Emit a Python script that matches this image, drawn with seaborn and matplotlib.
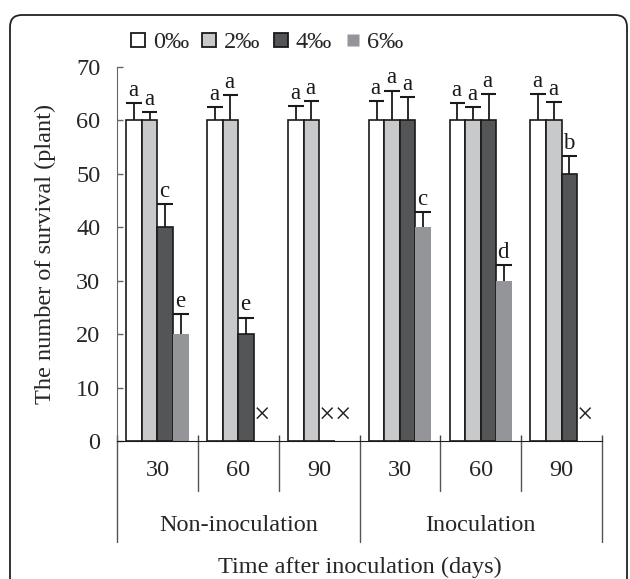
import numpy as np
import pandas as pd
import matplotlib
matplotlib.use("Agg")
import matplotlib.pyplot as plt
import matplotlib.transforms as mtransforms
from matplotlib.patches import FancyBboxPatch
from matplotlib.lines import Line2D
import seaborn as sns

# data
treatments  = ["Non-inoculation", "Inoculation"]
days        = ["30", "60", "90"]
levels      = ["0‰", "2‰", "4‰", "6‰"]
colors      = ["#ffffff", "#c8c9cb", "#545556", "#939598"]

surv_0 = [60, 60, 60, 60, 60, 60]
surv_2 = [60, 60, 60, 60, 60, 60]
surv_4 = [40, 20, 0, 60, 60, 50]
surv_6 = [20, 0, 0, 40, 30, 0]

err_0 = [3.2, 2.5, 2.7, 3.6, 3.2, 5.0]
err_2 = [1.6, 4.8, 3.6, 5.6, 2.5, 3.4]
err_4 = [4.4, 3.1, 0.0, 4.4, 5.0, 3.4]
err_6 = [3.8, 0.0, 0.0, 2.8, 3.0, 0.0]

sig_0 = ["a", "a", "a", "a", "a", "a"]
sig_2 = ["a", "a", "a", "a", "a", "a"]
sig_4 = ["c", "e", "", "a", "a", "b"]
sig_6 = ["e", "", "", "c", "d", ""]

survival = [surv_0, surv_2, surv_4, surv_6]
errors   = [err_0, err_2, err_4, err_6]
letters  = [sig_0, sig_2, sig_4, sig_6]

slots = [f"{t}-{d}" for t in treatments for d in days]
rows = []
for lev, vals in zip(levels, survival):
    for slot, v in zip(slots, vals):
        rows.append({"slot": slot, "level": lev, "value": v})
df = pd.DataFrame(rows)

sns.set_style("ticks")
plt.rcParams["font.family"] = ["Liberation Serif", "DejaVu Serif"]

fig = plt.figure(figsize=(6.3, 5.79), dpi=100)
ax = fig.add_axes([0.1857, 0.2383, 0.7699, 0.6460])

sns.barplot(data=df, x="slot", y="value", hue="level", order=slots,
            hue_order=levels, palette=colors, saturation=1, width=0.77,
            errorbar=None, edgecolor="#1a1a1a", linewidth=1.2, ax=ax,
            legend=False)

# 6‰ bars have no outline
for p in ax.containers[3]:
    p.set_edgecolor("none")

for k, cont in enumerate(ax.containers):
    for i, p in enumerate(cont):
        xc = p.get_x() + p.get_width() / 2
        w = p.get_width()
        v = survival[k][i]
        e = errors[k][i]
        if v == 0:
            # dead plants
            ax.text(xc, 4.6, "×", ha="center", va="center", fontsize=21,
                    color="#222222")
            continue
        ax.vlines(xc, v, v + e, color="#1a1a1a", lw=1.3)
        ax.hlines(v + e, xc - w / 2, xc + w / 2, color="#1a1a1a", lw=1.5)
        if letters[k][i]:
            ax.text(xc - 0.01, v + e + 0.4, letters[k][i], ha="center",
                    va="bottom", fontsize=16.5, color="#1a1a1a")

ax.set_ylim(0, 70)
ax.set_xlim(-0.5, len(slots) - 0.5)
ax.set_yticks(np.arange(0, 71, 10))
ax.tick_params(axis="y", direction="in", length=4, width=1, color="#666666",
               labelsize=17.5, pad=12)
ax.set_xticks(range(len(slots)))
ax.set_xticklabels(days * len(treatments))
ax.tick_params(axis="x", length=0, labelsize=17.5, pad=14)
bounds = np.arange(-0.5, len(slots), 1.0)
ax.set_xticks(bounds, minor=True)
ax.tick_params(axis="x", which="minor", direction="in", length=4, width=1,
               color="#444444")
sns.despine(ax=ax)
ax.spines["left"].set_color("#666666")
ax.spines["bottom"].set_color("#1a1a1a")
ax.set_xlabel("")
ax.set_ylabel("")

# separators under the axis
trans = mtransforms.blended_transform_factory(ax.transData, ax.transAxes)
for b in bounds:
    outer = (b + 0.5) % 3 == 0
    ax.plot([b, b], [0, -0.27 if outer else -0.134], transform=trans,
            color="#555555", lw=1, clip_on=False)
for j, t in enumerate(treatments):
    ax.text(j * 3 + 1, -0.225, t, transform=trans, ha="center", va="center",
            fontsize=17.5)
ax.text(0.5, -0.337, "Time after inoculation (days)", transform=ax.transAxes,
        ha="center", va="center", fontsize=17.5)
ax.text(-0.148, 0.5, "The number of survival (plant)", transform=ax.transAxes,
        rotation=90, ha="center", va="center", fontsize=17.5)

# legend: outlined squares, the 6‰ one smaller and without outline
handles = []
for k, lev in enumerate(levels):
    fc = ax.containers[k][0].get_facecolor()
    if k < 3:
        h = Line2D([], [], ls="none", marker="s", markersize=10,
                   markerfacecolor=fc, markeredgecolor="#1a1a1a",
                   markeredgewidth=1.3)
    else:
        h = Line2D([], [], ls="none", marker="s", markersize=8,
                   markerfacecolor=fc, markeredgecolor="none")
    handles.append(h)
ax.legend(handles, levels, ncol=4, loc="center", frameon=False,
          bbox_to_anchor=(0.424, 1 - 42 / 579),
          bbox_transform=fig.transFigure, fontsize=17.5,
          handlelength=0.6, handletextpad=0.3, columnspacing=0.55)

frame = FancyBboxPatch((0.10, -0.5), 6.17, 5.64 + 0.5,
                       boxstyle="round,pad=0,rounding_size=0.12",
                       transform=fig.dpi_scale_trans, fill=False,
                       edgecolor="#222222", lw=1.3, clip_on=False)
fig.patches.append(frame)

fig.savefig("out.png", dpi=100)
